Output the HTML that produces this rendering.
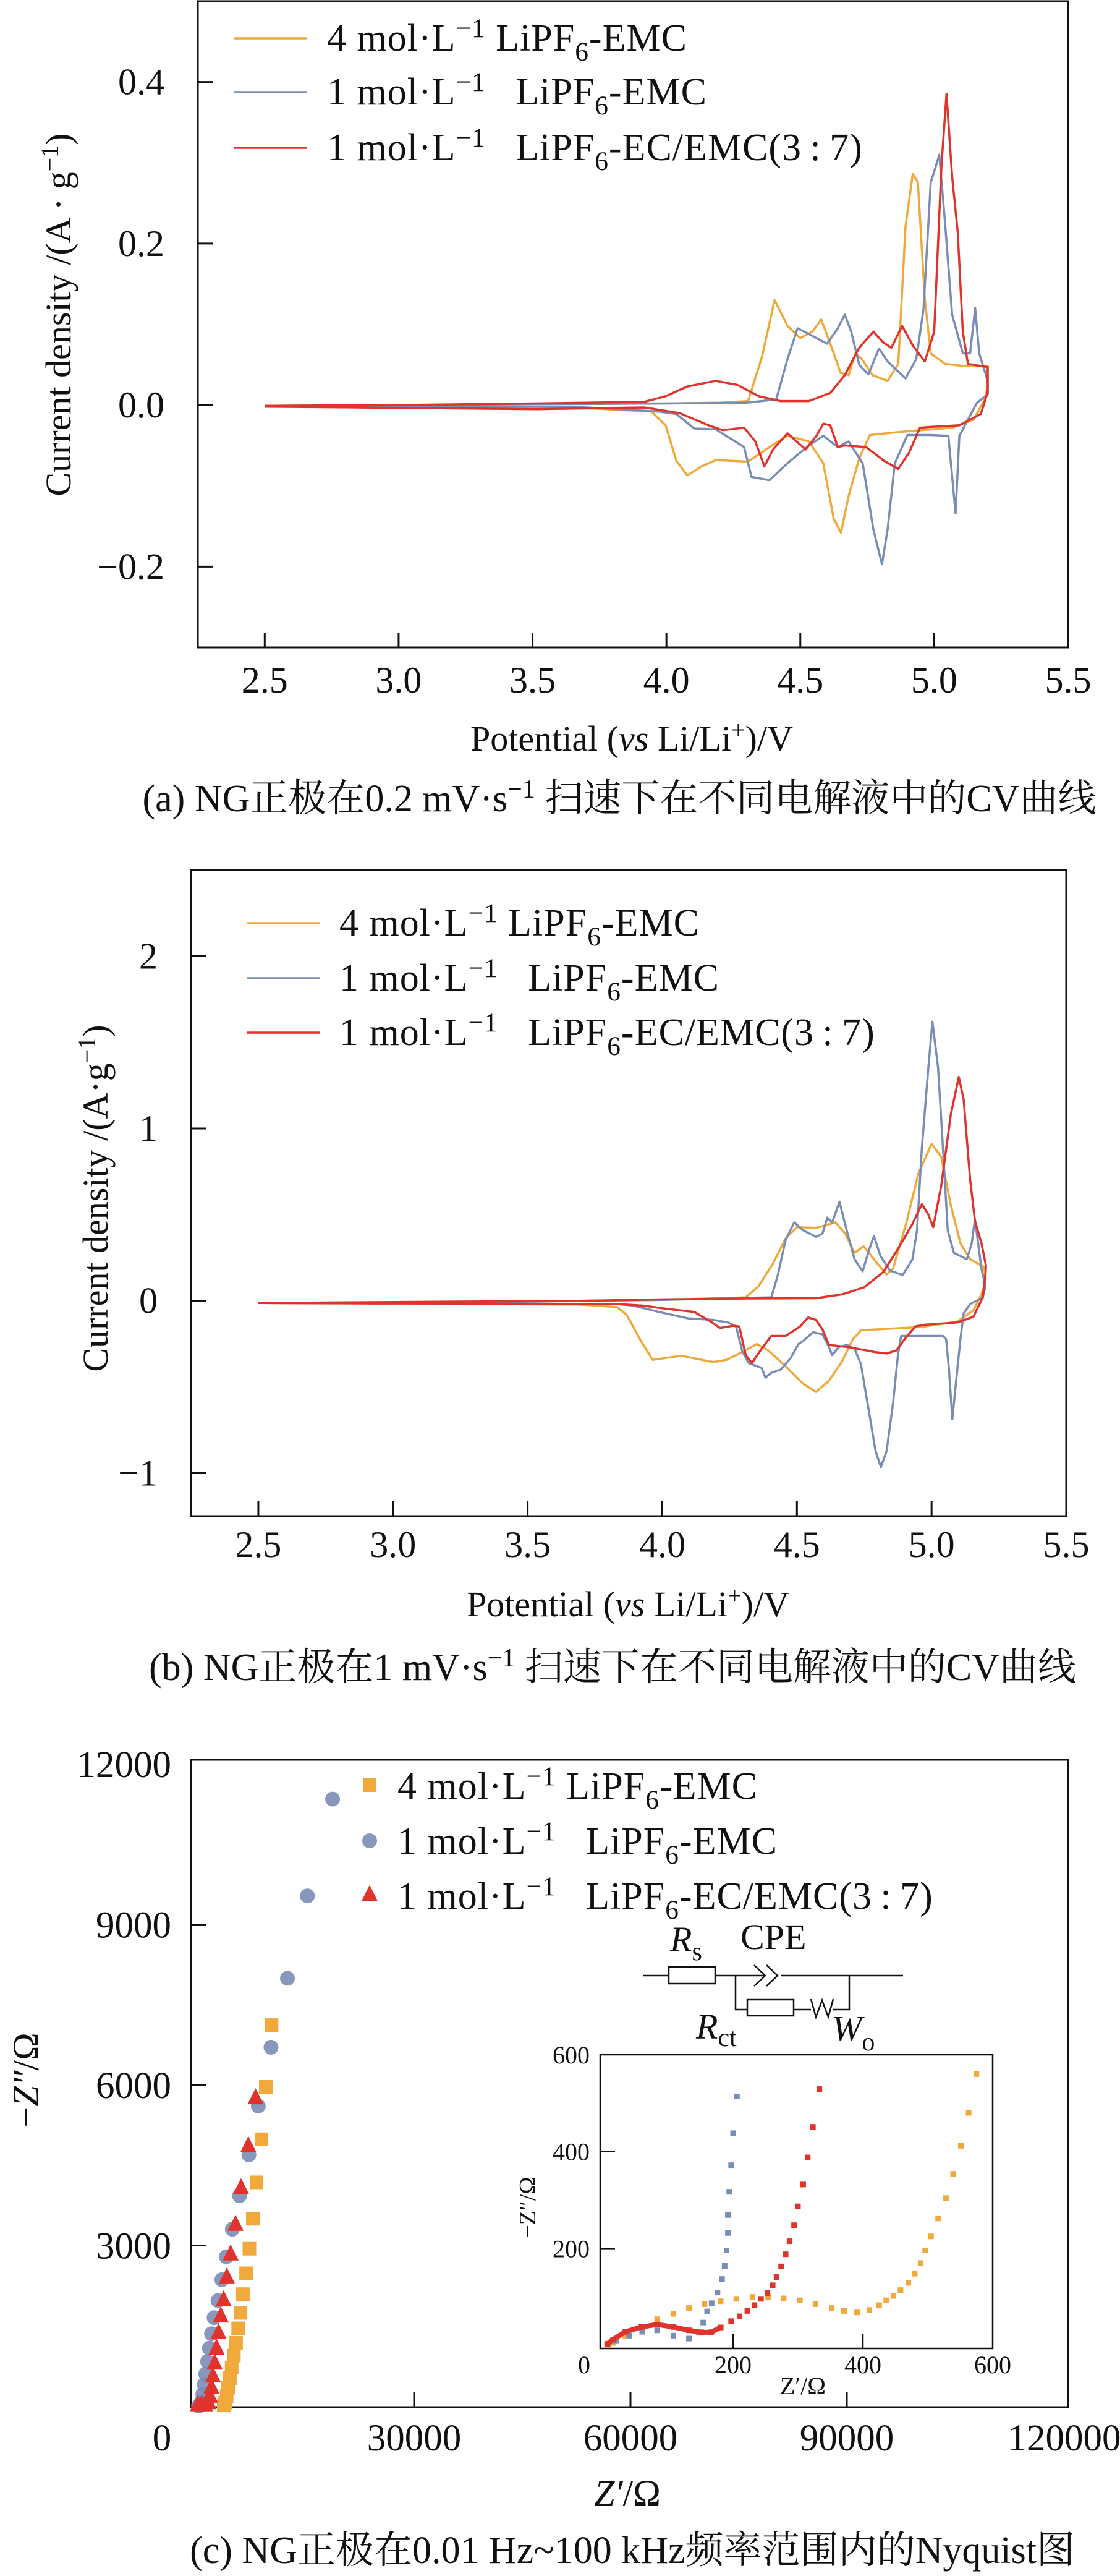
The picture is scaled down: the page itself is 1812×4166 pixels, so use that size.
<!DOCTYPE html>
<html><head><meta charset="utf-8">
<style>
html,body{margin:0;padding:0;background:#fff;}
svg{display:block;}
text{font-family:"Liberation Serif","Noto Serif CJK SC","Noto Sans CJK SC",serif;fill:#111;}
</style></head>
<body>
<svg id="fig" width="1812" height="4166" viewBox="0 0 1812 4166" xmlns="http://www.w3.org/2000/svg">
<rect width="1812" height="4166" fill="#fff"/>
<g id="chartA"></g>
<g id="chartB"></g>
<g id="chartC"></g>
</svg>
<script>
// ---------- Chart A data (0.2 mV/s) ----------
const aOrangeV=[2.5,3.0,3.5,4.0,4.2,4.305,4.357,4.404,4.452,4.5,4.545,4.578,4.61,4.65,4.68,4.706,4.73,4.77,4.826,4.866,4.893,4.92,4.939,4.965,4.987,5.04,5.12,5.2,5.2,5.187,5.147,5.067,4.88,4.76,4.72,4.68,4.652,4.625,4.586,4.532,4.452,4.385,4.305,4.184,4.131,4.078,4.037,3.997,3.944,3.65,2.85,2.5];
const aOrangeI=[-0.001,0.0,0.001,0.002,0.003,0.005,0.06,0.130,0.098,0.083,0.091,0.106,0.078,0.040,0.037,0.064,0.057,0.037,0.030,0.051,0.221,0.286,0.276,0.132,0.064,0.051,0.048,0.048,0.023,0.006,-0.018,-0.028,-0.033,-0.037,-0.066,-0.113,-0.158,-0.141,-0.072,-0.045,-0.038,-0.052,-0.070,-0.068,-0.076,-0.087,-0.069,-0.025,-0.008,-0.003,-0.002,-0.002];
const aBlueV=[2.5,3.0,3.5,4.0,4.3,4.41,4.452,4.49,4.532,4.6,4.64,4.666,4.69,4.72,4.754,4.794,4.826,4.893,4.933,4.96,4.987,5.0,5.019,5.04,5.067,5.107,5.134,5.153,5.168,5.2,5.2,5.16,5.126,5.094,5.08,5.053,4.987,4.9,4.853,4.826,4.805,4.773,4.733,4.68,4.64,4.586,4.532,4.452,4.385,4.318,4.29,4.184,4.104,4.037,3.97,3.65,2.5];
const aBlueI=[-0.001,0.0,0.001,0.002,0.003,0.007,0.057,0.095,0.088,0.076,0.095,0.112,0.091,0.050,0.038,0.070,0.054,0.033,0.057,0.119,0.276,0.289,0.31,0.228,0.112,0.064,0.064,0.12,0.064,0.030,0.013,0.003,-0.018,-0.038,-0.134,-0.038,-0.037,-0.037,-0.072,-0.154,-0.197,-0.154,-0.072,-0.045,-0.052,-0.038,-0.050,-0.072,-0.093,-0.089,-0.052,-0.030,-0.029,-0.011,-0.008,-0.002,-0.002];
const aRedV=[2.5,3.0,3.5,3.917,3.997,4.078,4.184,4.265,4.345,4.425,4.532,4.612,4.666,4.72,4.773,4.808,4.84,4.88,4.92,4.965,5.0,5.027,5.046,5.067,5.088,5.107,5.126,5.2,5.2,5.174,5.094,4.987,4.947,4.906,4.866,4.813,4.746,4.666,4.64,4.612,4.586,4.56,4.52,4.452,4.398,4.366,4.332,4.29,4.21,4.157,4.05,3.917,3.516,2.85,2.5];
const aRedI=[-0.001,0.0,0.002,0.004,0.011,0.023,0.030,0.025,0.011,0.005,0.005,0.015,0.037,0.071,0.091,0.078,0.071,0.098,0.074,0.054,0.091,0.296,0.385,0.283,0.214,0.091,0.051,0.047,0.016,-0.011,-0.025,-0.027,-0.028,-0.059,-0.079,-0.069,-0.052,-0.050,-0.052,-0.025,-0.023,-0.038,-0.055,-0.035,-0.055,-0.076,-0.045,-0.028,-0.031,-0.025,-0.010,-0.003,-0.005,-0.003,-0.002];
const aYTicks=[0.4,0.2,0.0,-0.2];
const aYLabels=["0.4","0.2","0.0","\u22120.2"];
const xTicksCV=[2.5,3.0,3.5,4.0,4.5,5.0,5.5];
const xLabelsCV=["2.5","3.0","3.5","4.0","4.5","5.0","5.5"];

// ---------- Chart B data (1 mV/s) ----------
const bOrangeV=[2.5,3.2,3.69,4.0,4.31,4.357,4.41,4.458,4.5,4.571,4.643,4.679,4.714,4.748,4.786,4.833,4.857,4.905,4.952,5.0,5.036,5.071,5.107,5.143,5.196,5.2,5.185,5.155,5.095,4.964,4.738,4.708,4.667,4.619,4.571,4.524,4.452,4.393,4.351,4.298,4.238,4.19,4.071,3.964,3.917,3.869,3.833,3.69,2.5];
const bOrangeI=[-0.013,-0.01,0.0,0.005,0.02,0.084,0.213,0.362,0.427,0.423,0.455,0.39,0.278,0.316,0.241,0.152,0.186,0.446,0.743,0.91,0.835,0.557,0.334,0.241,0.195,0.111,0.037,-0.056,-0.121,-0.152,-0.171,-0.223,-0.353,-0.464,-0.529,-0.483,-0.371,-0.288,-0.251,-0.297,-0.343,-0.356,-0.319,-0.343,-0.223,-0.084,-0.037,-0.022,-0.013];
const bBlueV=[2.5,3.2,3.7,4.0,4.405,4.429,4.458,4.49,4.524,4.571,4.595,4.613,4.631,4.658,4.685,4.714,4.744,4.768,4.786,4.81,4.845,4.893,4.929,4.946,4.964,4.988,5.003,5.024,5.042,5.06,5.083,5.131,5.149,5.161,5.173,5.185,5.2,5.19,5.143,5.119,5.107,5.095,5.077,5.065,5.054,5.042,4.976,4.887,4.875,4.857,4.833,4.812,4.792,4.762,4.738,4.714,4.685,4.655,4.631,4.619,4.595,4.56,4.524,4.506,4.476,4.44,4.405,4.383,4.369,4.321,4.298,4.274,4.244,4.19,4.095,3.988,3.893,3.833,2.5];
const bBlueI=[-0.013,-0.01,0.0,0.005,0.02,0.149,0.353,0.455,0.408,0.371,0.39,0.483,0.455,0.575,0.408,0.241,0.171,0.297,0.375,0.26,0.176,0.149,0.241,0.408,0.891,1.35,1.62,1.355,0.891,0.408,0.278,0.241,0.334,0.473,0.334,0.186,0.084,0.019,-0.019,-0.074,-0.223,-0.408,-0.687,-0.408,-0.223,-0.204,-0.204,-0.204,-0.316,-0.594,-0.872,-0.965,-0.872,-0.594,-0.371,-0.278,-0.256,-0.269,-0.316,-0.269,-0.195,-0.182,-0.232,-0.251,-0.334,-0.399,-0.418,-0.446,-0.39,-0.362,-0.297,-0.149,-0.126,-0.111,-0.102,-0.065,-0.028,-0.019,-0.013];
const bRedV=[2.5,3.2,3.7,4.0,4.31,4.571,4.667,4.75,4.821,4.881,4.929,4.964,4.988,5.006,5.036,5.071,5.101,5.119,5.143,5.161,5.185,5.202,5.2,5.19,5.155,5.095,4.976,4.94,4.905,4.869,4.833,4.786,4.738,4.69,4.619,4.595,4.571,4.542,4.512,4.458,4.405,4.369,4.333,4.31,4.286,4.262,4.214,4.185,4.119,4.012,3.929,3.833,2.5];
const bRedI=[-0.013,-0.005,0.0,0.008,0.013,0.015,0.037,0.078,0.167,0.316,0.446,0.561,0.501,0.427,0.668,1.077,1.299,1.17,0.705,0.464,0.334,0.204,0.149,0.019,-0.093,-0.126,-0.139,-0.149,-0.213,-0.288,-0.306,-0.297,-0.282,-0.269,-0.256,-0.167,-0.111,-0.097,-0.149,-0.204,-0.204,-0.278,-0.362,-0.316,-0.149,-0.145,-0.158,-0.126,-0.065,-0.046,-0.028,-0.019,-0.013];
const bYTicks=[2,1,0,-1];
const bYLabels=["2","1","0","\u22121"];

// ---------- Chart C data (Nyquist) ----------
const cOrangeX=[10225,9430,8830,8140,7630,7160,6700,6250,5920,5600,5300,5000,4700,4450,4200,4000,3800,3600];
const cOrangeY=[7120,5965,4985,4180,3500,2940,2480,2090,1740,1450,1180,940,720,520,340,180,60,10];
const cBlueX=[18690,15200,12430,10150,8390,7090,5790,4790,3950,3340,2800,2260,1900,1600,1350,1100,900,700,500,300,100];
const cBlueY=[11346,9535,7995,6706,5606,4695,3930,3305,2790,2360,1970,1650,1350,1080,830,600,400,220,80,10,0];
const cRedX=[8010,7010,6000,5230,4550,4030,3570,3190,2880,2600,2350,2100,1900,1700,1500,1000,500,0];
const cRedY=[5760,4865,4080,3395,2840,2410,1985,1680,1370,1080,800,560,350,180,60,20,20,20];
const cXTicks=[0,30000,60000,90000,120000];
const cYTicks=[0,3000,6000,9000,12000];
// inset
const iBlueX=[8,20,40,60,83,108,132,147,154,160,167,176,183,187,190,192,192,194,197,200,206];
const iBlueY=[2,10,20,28,31,20,14,26,47,70,87,109,137,164,196,232,269,317,372,438,514];
const iRedX=[6,15,34,59,83,108,132,151,166,181,197,210,222,233,243,253,261,267,274,281,287,294,300,308,315,323,333];
const iRedY=[3,12,28,38,43,38,31,27,27,37,50,60,71,83,96,108,124,141,163,188,215,248,287,332,388,451,529];
const iOrangeX=[8,15,34,59,83,108,132,156,181,205,230,254,278,303,327,352,371,391,410,425,436,447,458,470,480,489,496,505,516,528,539,551,563,575];
const iOrangeY=[0,5,20,37,54,65,77,85,91,96,100,100,97,93,85,77,71,68,73,83,93,102,114,129,148,170,196,225,262,304,354,412,480,560];
const iTicks=[0,200,400,600];

const NS="http://www.w3.org/2000/svg";
const COL={orange:"#f0a93a",blue:"#7a8db5",red:"#e0332b"};
function mk(parent,tag,attrs,txt){const e=document.createElementNS(NS,tag);for(const k in attrs)e.setAttribute(k,attrs[k]);if(txt!==undefined)e.textContent=txt;parent.appendChild(e);return e;}
function lin(d0,d1,r0,r1){return v=>r0+(v-d0)/(d1-d0)*(r1-r0);}

function legendText(g,x,y,conc,solv,fs){
  const t=mk(g,"text",{x:x,y:y,"font-size":fs,"letter-spacing":1});
  
  
  mk(t,"tspan",{},conc+" mol\u00b7L");
  mk(t,"tspan",{dy:-22,"font-size":fs*0.7},"\u22121");
  mk(t,"tspan",{dy:22},conc==="4"?" LiPF":"\u2002 LiPF");
  mk(t,"tspan",{dy:16,"font-size":fs*0.7},"6");
  mk(t,"tspan",{dy:-16},"-"+solv);
}

function cvChart(g,o){
  const sx=lin(o.xmin,o.xmax,o.L,o.R), sy=lin(o.ymin,o.ymax,o.B,o.T);
  const box=mk(g,"rect",{x:o.L,y:o.T,width:o.R-o.L,height:o.B-o.T,fill:"none",stroke:"#111","stroke-width":3});
  
  
  o.yT.forEach((v,i)=>{const y=sy(v);
    const tk=mk(g,"line",{x1:o.L,x2:o.L+24,y1:y,y2:y,stroke:"#111","stroke-width":3});
    
    
    const lb=mk(g,"text",{x:o.L-54,y:y+20,"font-size":60,"text-anchor":"end"},o.yL[i]);
    
    
  });
  xTicksCV.forEach((v,i)=>{const x=sx(v);
    if(v<o.xmax-0.01){const tk=mk(g,"line",{x1:x,x2:x,y1:o.B,y2:o.B-24,stroke:"#111","stroke-width":3});
    
    }
    const lb=mk(g,"text",{x:x,y:o.xlY,"font-size":60,"text-anchor":"middle"},xLabelsCV[i]);
    
    
  });
  o.series.forEach(s=>{
    const d=s.v.map((v,i)=>(i?"L":"M")+sx(v).toFixed(1)+","+sy(s.i[i]).toFixed(1)).join(" ");
    const p=mk(g,"path",{d:d,fill:"none",stroke:s.c,"stroke-width":3.5,"stroke-linejoin":"round"});
    
    
  });
  const lg=mk(g,"g",{});
  
  
  const items=[["4","EMC",COL.orange],["1","EMC",COL.blue],["1","EC/EMC(3\u2009:\u20097)",COL.red]];
  items.forEach((it,k)=>{const y=o.legY[k];
    const ln=mk(lg,"line",{x1:o.legX,x2:o.legX+118,y1:y,y2:y,stroke:it[2],"stroke-width":3.5});
    
    
    legendText(lg,o.legX+150,y+20,it[0],it[1],62);
  });
  const yt=mk(g,"text",{x:0,y:0,"font-size":58,"text-anchor":"middle",transform:`translate(${o.ytX},${o.ytY}) rotate(-90)`});
  
  
  mk(yt,"tspan",{},o.ytText);
  mk(yt,"tspan",{dy:-20,"font-size":40},"\u22121");
  mk(yt,"tspan",{dy:20},")");
  const xt=mk(g,"text",{x:o.xtX,y:o.xtY,"font-size":58,"text-anchor":"middle"});
  
  
  mk(xt,"tspan",{},"Potential (");
  mk(xt,"tspan",{"font-style":"italic"},"vs");
  mk(xt,"tspan",{}," Li/Li");
  mk(xt,"tspan",{dy:-20,"font-size":40},"+");
  mk(xt,"tspan",{dy:20},")/V");
  const cap=mk(g,"text",{x:o.capX,y:o.capY,"font-size":62,"text-anchor":"middle"});
  
  
  mk(cap,"tspan",{},o.cap1);
  mk(cap,"tspan",{dy:-22,"font-size":42},"\u22121");
  mk(cap,"tspan",{dy:22},o.cap2);
}

cvChart(document.getElementById("chartA"),{L:320,R:1728,T:2,B:1047,xmin:2.25,xmax:5.5,ymin:-0.3,ymax:0.5,
  yT:aYTicks,yL:aYLabels,xlY:1120,
  series:[{v:aOrangeV,i:aOrangeI,c:COL.orange,n:"series-4m-emc"},{v:aBlueV,i:aBlueI,c:COL.blue,n:"series-1m-emc"},{v:aRedV,i:aRedI,c:COL.red,n:"series-1m-ec-emc"}],
  legX:379,legY:[62,149,239],ytX:114,ytY:509,ytText:"Current density /(A \u00b7 g",
  xtX:1022,xtY:1214,capX:1002,capY:1312,cap1:"(a) NG\u6b63\u6781\u57280.2 mV\u00b7s",cap2:" \u626b\u901f\u4e0b\u5728\u4e0d\u540c\u7535\u89e3\u6db2\u4e2d\u7684CV\u66f2\u7ebf"});

cvChart(document.getElementById("chartB"),{L:309,R:1725,T:1407,B:2452,xmin:2.25,xmax:5.5,ymin:-1.25,ymax:2.5,
  yT:bYTicks,yL:bYLabels,xlY:2518,
  series:[{v:bOrangeV,i:bOrangeI,c:COL.orange,n:"series-4m-emc"},{v:bBlueV,i:bBlueI,c:COL.blue,n:"series-1m-emc"},{v:bRedV,i:bRedI,c:COL.red,n:"series-1m-ec-emc"}],
  legX:399,legY:[1493,1582,1670],ytX:174,ytY:1938,ytText:"Current density /(A\u00b7g",
  xtX:1016,xtY:2614,capX:991,capY:2717,cap1:"(b) NG\u6b63\u6781\u57281 mV\u00b7s",cap2:" \u626b\u901f\u4e0b\u5728\u4e0d\u540c\u7535\u89e3\u6db2\u4e2d\u7684CV\u66f2\u7ebf"});

// ---------- Chart C ----------
(function(){
  const g=document.getElementById("chartC");
  const L=309,R=1728,T=2846,B=3893;
  const sx=lin(0,30000,320,670), sy=lin(0,12000,3891,2853);
  const box=mk(g,"rect",{x:L,y:T,width:R-L,height:B-T,fill:"none",stroke:"#111","stroke-width":3});
  
  
  cYTicks.forEach(v=>{const y=sy(v);
    if(v>0&&v<12000){const tk=mk(g,"line",{x1:L,x2:L+24,y1:y,y2:y,stroke:"#111","stroke-width":3});
    
    }
    if(v>0){const lb=mk(g,"text",{x:277,y:y+21,"font-size":61,"text-anchor":"end"},String(v));
    
    }
  });
  cXTicks.forEach(v=>{const x=sx(v);
    if(v>0&&v<120000){const tk=mk(g,"line",{x1:x,x2:x,y1:B,y2:B-24,stroke:"#111","stroke-width":3});
    
    }
    const lb=mk(g,"text",{x:v===0?262:(v===120000?1722:x),y:3963,"font-size":61,"text-anchor":"middle"},String(v));
    
    
  });
  function sq(parent,x,y,s,c,name){const r=mk(parent,"rect",{x:x-s/2,y:y-s/2,width:s,height:s,fill:c});}
  function ci(parent,x,y,r,c,name){const e=mk(parent,"circle",{cx:x,cy:y,r:r,fill:c,"fill-opacity":0.9});}
  function tri(parent,x,y,s,c,name){const e=mk(parent,"polygon",{points:`${x},${y-s*0.6} ${x-s/2},${y+s*0.4} ${x+s/2},${y+s*0.4}`,fill:c});}
  cOrangeX.forEach((v,i)=>sq(g,sx(v),sy(cOrangeY[i]),22,COL.orange,"point-4m-emc"));
  cBlueX.forEach((v,i)=>ci(g,sx(v),sy(cBlueY[i]),12,COL.blue,"point-1m-emc"));
  cRedX.forEach((v,i)=>tri(g,sx(v),sy(cRedY[i]),26,COL.red,"point-1m-ec-emc"));
  const lg=mk(g,"g",{});
  
  
  sq(lg,598,2887,22,COL.orange,"legend-marker");
  ci(lg,598,2977,12,COL.blue,"legend-marker");
  tri(lg,598,3064,26,COL.red,"legend-marker");
  legendText(lg,643,2909,"4","EMC",62);
  legendText(lg,643,2998,"1","EMC",62);
  legendText(lg,643,3087,"1","EC/EMC(3\u2009:\u20097)",62);
  // circuit
  const cg=mk(g,"g",{stroke:"#111","stroke-width":2.5,fill:"none"});
  
  
  mk(cg,"path",{d:"M1040,3195 H1082 M1157,3195 H1238 M1263,3195 H1461 M1190,3195 V3250 H1209 M1284,3250 H1312 M1348,3250 H1374 V3195"});
  mk(cg,"rect",{x:1082,y:3181,width:75,height:27,fill:"#fff"});
  mk(cg,"rect",{x:1209,y:3234,width:75,height:26,fill:"#fff"});
  mk(cg,"path",{d:"M1220,3178 L1238,3195 L1220,3212 M1240,3178 L1258,3195 L1240,3212"});
  mk(cg,"path",{d:"M1312,3233 L1320,3262 L1330,3235 L1340,3262 L1348,3233"});
  const t1=mk(g,"text",{x:1084,y:3156,"font-size":58,"font-style":"italic"});
  
  
  mk(t1,"tspan",{},"R");mk(t1,"tspan",{dy:14,"font-size":42,"font-style":"normal"},"s");
  const t2=mk(g,"text",{x:1198,y:3152,"font-size":58},"CPE");
  
  
  const t3=mk(g,"text",{x:1126,y:3297,"font-size":58,"font-style":"italic"});
  
  
  mk(t3,"tspan",{},"R");mk(t3,"tspan",{dy:12,"font-size":42,"font-style":"normal"},"ct");
  const t4=mk(g,"text",{x:1346,y:3300,"font-size":58,"font-style":"italic"});
  
  
  mk(t4,"tspan",{},"W");mk(t4,"tspan",{dy:16,"font-size":42,"font-style":"normal"},"o");
  // inset
  const ig=mk(g,"g",{});
  
  
  const iL=971,iR=1606,iT=3323,iB=3798;
  const ix=lin(0,600,976,1606), iy=lin(0,600,3793,3323);
  const ib=mk(ig,"rect",{x:iL,y:iT,width:iR-iL,height:iB-iT,fill:"#fff",stroke:"#111","stroke-width":2.5});
  
  
  iTicks.forEach(v=>{
    if(v>0&&v<600){const a=mk(ig,"line",{x1:ix(v),x2:ix(v),y1:iB,y2:iB-24,stroke:"#111","stroke-width":2.5});
    
    
    const b=mk(ig,"line",{x1:iL,x2:iL+24,y1:iy(v),y2:iy(v),stroke:"#111","stroke-width":2.5});
    
    }
    const xl=mk(ig,"text",{x:v===0?945:ix(v),y:3838,"font-size":40,"text-anchor":"middle"},String(v));
    
    
    if(v>0){const yl=mk(ig,"text",{x:954,y:iy(v)+14,"font-size":40,"text-anchor":"end"},String(v));
    
    }
  });
  const ixt=mk(ig,"text",{x:1299,y:3872,"font-size":40,"text-anchor":"middle"},"Z\u2032/\u03a9");
  
  
  const iyt=mk(ig,"text",{x:0,y:0,"font-size":38,"text-anchor":"middle",transform:"translate(866,3570) rotate(-90)"},"\u2212Z\u2033/\u03a9");
  
  
  iOrangeX.forEach((v,i)=>sq(ig,ix(v),iy(iOrangeY[i]),9,COL.orange,"inset-point-4m-emc"));
  iBlueX.forEach((v,i)=>sq(ig,ix(v),iy(iBlueY[i]),9,COL.blue,"inset-point-1m-emc"));
  iRedX.forEach((v,i)=>sq(ig,ix(v),iy(iRedY[i]),9,COL.red,"inset-point-1m-ec-emc"));
  const bandR=mk(ig,"path",{d:iRedX.slice(0,10).map((v,i)=>(i?"L":"M")+ix(v)+","+iy(iRedY[i])).join(" "),stroke:COL.red,"stroke-width":8,fill:"none"});
  
  
  const yt=mk(g,"text",{x:0,y:0,"font-size":60,"text-anchor":"middle",transform:"translate(62,3364) rotate(-90)"});
  
  
  mk(yt,"tspan",{},"\u2212");mk(yt,"tspan",{"font-style":"italic"},"Z\u2033");mk(yt,"tspan",{},"/\u03a9");
  const xt=mk(g,"text",{x:1015,y:4052,"font-size":60,"text-anchor":"middle"});
  
  
  mk(xt,"tspan",{"font-style":"italic"},"Z\u2032");mk(xt,"tspan",{},"/\u03a9");
  const cap=mk(g,"text",{x:1023,y:4145,"font-size":62,"text-anchor":"middle"},"(c) NG\u6b63\u6781\u57280.01 Hz~100 kHz\u9891\u7387\u8303\u56f4\u5185\u7684Nyquist\u56fe");
  
  
})();
</script>
</body></html>
